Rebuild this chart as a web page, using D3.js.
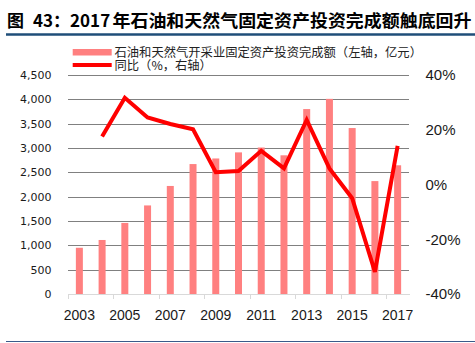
<!DOCTYPE html>
<html>
<head>
<meta charset="utf-8">
<script src="https://cdn.jsdelivr.net/npm/d3@7/dist/d3.min.js"></script>
<style>
html,body{margin:0;padding:0;background:#fff;}
svg{display:block;}
</style>
</head>
<body>
<script>
const years = ["2003","2004","2005","2006","2007","2008","2009","2010","2011","2012","2013","2014","2015","2016","2017"];
const investment = [950,1110,1460,1820,2220,2670,2785,2910,3010,2850,3800,4010,3410,2320,2645];
const yoy = [null,17.5,31.7,24.5,22.1,20.2,4.5,4.9,12.3,5.9,23.6,5.9,-5.0,-31.9,14.1];
const leftTicks = [0,500,1000,1500,2000,2500,3000,3500,4000,4500];
const rightTicks = [-40,-20,0,20,40];
const xLabelYears = ["2003","2005","2007","2009","2011","2013","2015","2017"];
const titleNum = "图";
const titleMid = "43：2017";
const titleRest = "年石油和天然气固定资产投资完成额触底回升";
const legendBar = "石油和天然气开采业固定资产投资完成额（左轴，亿元）";
const legendLine = "同比（%，右轴）";

const W = 475, H = 343;
const pL = 68, pR = 409, pT = 75, pB = 294;

const svg = d3.select("body").append("svg").attr("width", W).attr("height", H);

const x = d3.scaleBand().domain(years).range([pL, pR]).padding(0);
const yL = d3.scaleLinear().domain([0,4500]).range([pB, pT]);
const yR = d3.scaleLinear().domain([-40,40]).range([pB, pT]);

const cjk = "'Noto Sans CJK SC','Noto Sans',sans-serif";

// Title
const t = svg.append("text").attr("y", 27).attr("font-family", cjk).attr("font-weight", "bold").attr("font-size", 17).attr("fill", "#000");
t.append("tspan").attr("x", 7).text(titleNum);
t.append("tspan").attr("x", 33).text(titleMid);
t.append("tspan").attr("x", 112.5).attr("textLength", 359).attr("lengthAdjust","spacingAndGlyphs").text(titleRest);
svg.append("line").attr("x1", 6).attr("x2", 475).attr("y1", 34.5).attr("y2", 34.5).attr("stroke", "#1F4E79").attr("stroke-width", 2.5);
svg.append("line").attr("x1", 6).attr("x2", 475).attr("y1", 341.5).attr("y2", 341.5).attr("stroke", "#3A5A8A").attr("stroke-width", 1.2);

// Gridlines
svg.append("g").selectAll("line").data(leftTicks.filter(d => d > 0)).join("line")
  .attr("x1", pL).attr("x2", pR)
  .attr("y1", d => Math.round(yL(d)) + 0.5).attr("y2", d => Math.round(yL(d)) + 0.5)
  .attr("stroke", "#808080").attr("stroke-width", 1);

// Bars
const bw = 7;
svg.append("g").selectAll("rect").data(investment).join("rect")
  .attr("x", (d,i) => x(years[i]) + x.bandwidth()/2 - bw/2)
  .attr("width", bw)
  .attr("y", d => yL(d))
  .attr("height", d => yL(0) - yL(d))
  .attr("fill", "#FF8080");

// X axis line and ticks
svg.append("line").attr("x1", pL).attr("x2", pR + 1).attr("y1", pB + 0.5).attr("y2", pB + 0.5).attr("stroke", "#d9d9d9").attr("stroke-width", 1);
const tickIdx = d3.range(0, years.length, 2);
svg.append("g").selectAll("line").data(tickIdx).join("line")
  .attr("x1", i => Math.round(x(years[i])) + 0.5).attr("x2", i => Math.round(x(years[i])) + 0.5)
  .attr("y1", pB).attr("y2", pB + 5)
  .attr("stroke", "#d9d9d9").attr("stroke-width", 1);

// Line
const line = d3.line().defined(d => d != null)
  .x((d,i) => x(years[i]) + x.bandwidth()/2)
  .y(d => yR(d));
svg.append("path").datum(yoy).attr("d", line)
  .attr("fill", "none").attr("stroke", "#FF0000").attr("stroke-width", 4)
  .attr("stroke-linejoin", "miter");

// Left axis labels
svg.append("g").selectAll("text").data(leftTicks).join("text")
  .attr("x", 51.5).attr("y", d => yL(d)).attr("dy", "0.36em")
  .attr("text-anchor", "end").attr("font-family", "'DejaVu Sans',sans-serif").attr("font-size", 11)
  .attr("fill", "#1a1a1a").text(d => d3.format(",")(d));

// Right axis labels
svg.append("g").selectAll("text").data(rightTicks).join("text")
  .attr("x", 425.5).attr("y", d => yR(d)).attr("dy", "0.36em")
  .attr("text-anchor", "start").attr("font-family", "'Liberation Sans',Arial,sans-serif").attr("font-size", 15)
  .attr("fill", "#1a1a1a").text(d => d + "%");

// X labels
svg.append("g").selectAll("text").data(xLabelYears).join("text")
  .attr("x", d => x(d) + x.bandwidth()/2).attr("y", 320)
  .attr("text-anchor", "middle").attr("font-family", "'Liberation Sans',Arial,sans-serif").attr("font-size", 14)
  .attr("fill", "#1a1a1a").text(d => d);

// Legend
svg.append("rect").attr("x", 72.7).attr("y", 49).attr("width", 39).attr("height", 6.5).attr("fill", "#FF8080");
svg.append("text").attr("x", 114.5).attr("y", 56.5).attr("font-family", cjk).attr("font-size", 12.3).attr("fill", "#222").text(legendBar);
svg.append("line").attr("x1", 72.7).attr("x2", 111.7).attr("y1", 65).attr("y2", 65).attr("stroke", "#FF0000").attr("stroke-width", 4);
svg.append("text").attr("x", 114.5).attr("y", 69.5).attr("font-family", cjk).attr("font-size", 12.3).attr("fill", "#222").text(legendLine);
</script>
</body>
</html>
